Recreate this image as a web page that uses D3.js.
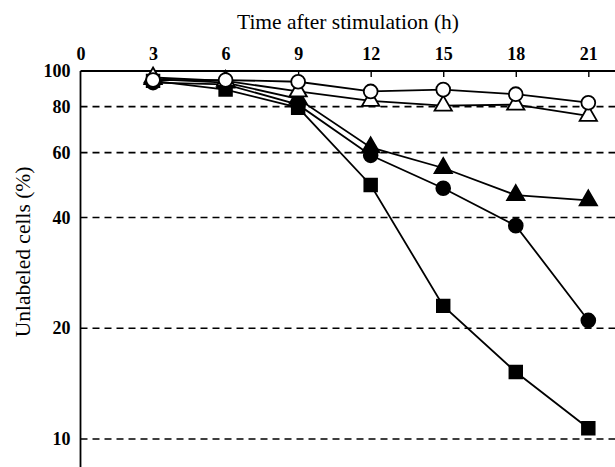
<!DOCTYPE html>
<html><head><meta charset="utf-8">
<script src="https://cdn.jsdelivr.net/npm/d3@7"></script>
<style>body{margin:0;background:#fff}svg{display:block}</style>
</head><body><svg id="c" width="615" height="467"></svg>
<script>
const hours = [3, 6, 9, 12, 15, 18, 21];
const xTicks = [0, 3, 6, 9, 12, 15, 18, 21];
const yTicks = [10, 20, 40, 60, 80, 100];
const yDashed = [10, 20, 40, 60, 80];
const openCircle = [94.5, 94.5, 93.5, 88, 89, 86.5, 82];
const openTriangle = [96, 94, 88, 83, 80.5, 81, 75.5];
const filledTriangle = [95, 93, 84, 62, 54.5, 46, 44.5];
const filledCircle = [93, 92, 81, 59, 48, 38, 21];
const filledSquare = [94, 89, 79.5, 49, 23, 15.2, 10.7];

const series = [
  {values: filledSquare, shape: "square", fill: "#000"},
  {values: filledCircle, shape: "circle", fill: "#000"},
  {values: filledTriangle, shape: "triangle", fill: "#000"},
  {values: openTriangle, shape: "triangle", fill: "#fff"},
  {values: openCircle, shape: "circle", fill: "#fff"}
];

const svg = d3.select("#c");
const x = d3.scaleLinear().domain([0, 22]).range([80.5, 612.5]);
const y = d3.scaleLog().domain([10, 100]).range([439, 71]);
const yBottom = 467;
const serif = "'Liberation Serif','Times New Roman',serif";

// dashed grid
svg.append("g").selectAll("line").data(yDashed).join("line")
  .attr("x1", x(0)).attr("x2", 615)
  .attr("y1", d => y(d)).attr("y2", d => y(d))
  .attr("stroke", "#000").attr("stroke-width", 1.6)
  .attr("stroke-dasharray", "7,5");

// top axis
const xAxis = d3.axisTop(x).tickValues(xTicks).tickSize(-6).tickPadding(11)
  .tickFormat(d3.format("d"));
const gx = svg.append("g").attr("transform", `translate(0,${y(100)})`).call(xAxis);
gx.select(".domain").attr("d", `M${x(0)},0H615`).attr("stroke-width", 1.8);
gx.selectAll(".tick line").attr("stroke-width", 1.4);
gx.selectAll(".tick").filter(d => d === 0).select("line").remove();
gx.selectAll("text").attr("font-family", serif).attr("font-size", 18)
  .attr("font-weight", "bold").attr("fill", "#000");

// left axis
const yAxis = d3.axisLeft(y).tickValues(yTicks).tickSize(0).tickPadding(10)
  .tickFormat(d3.format("d"));
const gy = svg.append("g").attr("transform", `translate(${x(0)},0)`).call(yAxis);
gy.select(".domain").attr("d", `M0,${y(100)}V${yBottom}`).attr("stroke-width", 1.8);
gy.selectAll("text").attr("font-family", serif).attr("font-size", 18)
  .attr("font-weight", "bold").attr("fill", "#000");

// titles
svg.append("text").attr("x", 348).attr("y", 29).attr("text-anchor", "middle")
  .attr("font-family", serif).attr("font-size", 21.5).text("Time after stimulation (h)");
svg.append("text").attr("transform", "translate(30,252) rotate(-90)")
  .attr("text-anchor", "middle").attr("font-family", serif).attr("font-size", 21.5)
  .text("Unlabeled cells (%)");

// lines
const line = d3.line().x((d, i) => x(hours[i])).y(d => y(d));
svg.append("g").selectAll("path").data(series).join("path")
  .attr("d", s => line(s.values)).attr("fill", "none")
  .attr("stroke", "#000").attr("stroke-width", 1.8);

// markers
const sym = {
  circle: d3.symbol().type(d3.symbolCircle).size(150),
  square: d3.symbol().type(d3.symbolSquare).size(160),
  triangle: d3.symbol().type(d3.symbolTriangle).size(130)
};
series.forEach(s => {
  svg.append("g").selectAll("path").data(s.values).join("path")
    .attr("transform", (d, i) => `translate(${x(hours[i])},${y(d)})`)
    .attr("d", sym[s.shape]())
    .attr("fill", s.fill).attr("stroke", "#000").attr("stroke-width", 1.8);
});
</script></body></html>
